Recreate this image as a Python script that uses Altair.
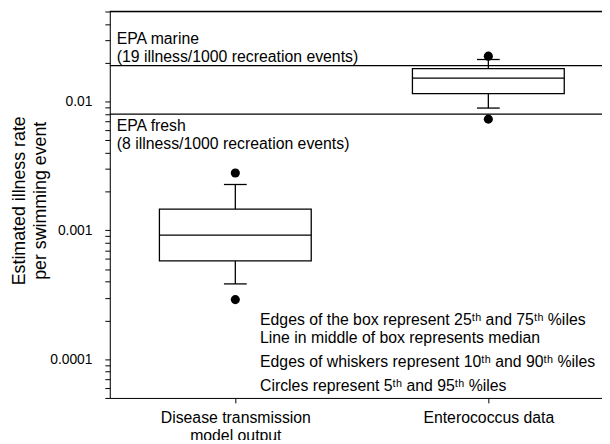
import json
import altair as alt
import pandas as pd

# ---- data ----
categories = ["Disease transmission model output", "Enterococcus data"]
category_label_lines = [["Disease transmission", "model output"], ["Enterococcus data"]]
category_pos = [1, 2]
p05 = [0.00029, 0.0073]
p10 = [0.000384, 0.0089]
p25 = [0.00058, 0.0115]
p50 = [0.000917, 0.0152]
p75 = [0.00146, 0.0180]
p90 = [0.00227, 0.0212]
p95 = [0.00279, 0.0225]

epa_values = [0.019, 0.008]
epa_names = ["EPA marine", "EPA fresh"]
epa_notes = ["(19 illness/1000 recreation events)", "(8 illness/1000 recreation events)"]

legend_lines = [
    "Edges of the box represent 25ᵗʰ and 75ᵗʰ %iles",
    "Line in middle of box represents median",
    "Edges of whiskers represent 10ᵗʰ and 90ᵗʰ %iles",
    "Circles represent 5ᵗʰ and 95ᵗʰ %iles",
]

y_domain = [5e-5, 0.05]
y_ticks = [m * 10.0 ** e for e in (-5, -4, -3, -2) for m in range(1, 10)]
y_ticks = [t for t in y_ticks if y_domain[0] * 0.999 <= t <= y_domain[1] * 1.001]

# ---- layout ----
W, H = 498, 391
PX_PER_UNIT = 256.0
x_min = 1 - 127 / PX_PER_UNIT
x_max = x_min + W / PX_PER_UNIT
BOX_HALF = 0.3
CAP_HALF = 0.045
FONT = "Liberation Sans"

df = pd.DataFrame({
    "cat": categories, "pos": category_pos,
    "p05": p05, "p10": p10, "p25": p25, "p50": p50,
    "p75": p75, "p90": p90, "p95": p95,
})
df["left"] = df["pos"] - BOX_HALF
df["right"] = df["pos"] + BOX_HALF
df["capl"] = df["pos"] - CAP_HALF
df["capr"] = df["pos"] + CAP_HALF

label_expr = " : ".join(
    f"datum.value == {p} ? {json.dumps(l)}" for p, l in zip(category_pos, category_label_lines)
) + " : ''"

xscale = alt.Scale(domain=[x_min, x_max], nice=False, zero=False)
yscale = alt.Scale(type="log", domain=y_domain, nice=False)

x_axis = alt.Axis(
    values=category_pos, labelExpr=label_expr, title=None, grid=False,
    tickSize=5, tickColor="black", domainColor="black", labelColor="black",
    labelFont=FONT, labelFontSize=16, labelPadding=7, labelLineHeight=18,
    labelOverlap=False, labelFlush=False,
)
y_axis = alt.Axis(
    values=y_ticks, format=".4~f",
    labelExpr="abs(log(datum.value)/LN10 - round(log(datum.value)/LN10)) < 1e-6 ? datum.label : ''",
    title=["Estimated illness rate", "per swimming event"],
    titleFont=FONT, titleFontSize=18, titleFontWeight="normal", titleColor="black",
    titleLineHeight=21, titleBaseline="alphabetic", titleX=-86, titleY=191,
    grid=False, tickSize=5, tickColor="black", domainColor="black", labelColor="black",
    labelFont=FONT, labelFontSize=14, labelPadding=13, labelOverlap=False, labelFlush=False,
)

base = alt.Chart(df)

box = base.mark_rect(fill="white", stroke="black", strokeWidth=1.3).encode(
    x=alt.X("left:Q", scale=xscale, axis=x_axis), x2="right:Q",
    y=alt.Y("p25:Q", scale=yscale, axis=y_axis), y2="p75:Q",
)
median = base.mark_rule(color="black", strokeWidth=1.3).encode(
    x="left:Q", x2="right:Q", y="p50:Q")
whisk_hi = base.mark_rule(color="black", strokeWidth=1.3).encode(
    x="pos:Q", y="p75:Q", y2="p90:Q")
whisk_lo = base.mark_rule(color="black", strokeWidth=1.3).encode(
    x="pos:Q", y="p25:Q", y2="p10:Q")
cap_hi = base.mark_rule(color="black", strokeWidth=1.3).encode(
    x="capl:Q", x2="capr:Q", y="p90:Q")
cap_lo = base.mark_rule(color="black", strokeWidth=1.3).encode(
    x="capl:Q", x2="capr:Q", y="p10:Q")
dot_hi = base.mark_circle(color="black", opacity=1, size=85).encode(x="pos:Q", y="p95:Q")
dot_lo = base.mark_circle(color="black", opacity=1, size=85).encode(x="pos:Q", y="p05:Q")

epa_df = pd.DataFrame({"v": epa_values, "name": epa_names, "note": epa_notes})
epa_rules = alt.Chart(epa_df).mark_rule(color="black", strokeWidth=1.3).encode(y="v:Q")
top_rule = alt.Chart(pd.DataFrame({"v": [y_domain[1]]})).mark_rule(
    color="black", strokeWidth=1.3).encode(y="v:Q")

txt = dict(font=FONT, fontSize=16, color="black", align="left", baseline="alphabetic")
marine_1 = alt.Chart(epa_df.iloc[[0]]).mark_text(dy=-22, **txt).encode(
    x=alt.value(7), y="v:Q", text="name:N")
marine_2 = alt.Chart(epa_df.iloc[[0]]).mark_text(dy=-4, **txt).encode(
    x=alt.value(7), y="v:Q", text="note:N")
fresh_1 = alt.Chart(epa_df.iloc[[1]]).mark_text(dy=17.5, **txt).encode(
    x=alt.value(7), y="v:Q", text="name:N")
fresh_2 = alt.Chart(epa_df.iloc[[1]]).mark_text(dy=35, **txt).encode(
    x=alt.value(7), y="v:Q", text="note:N")

legend_y = [317.5, 335, 359.5, 384]
legend_layers = [
    alt.Chart(pd.DataFrame({"t": [line]})).mark_text(**txt).encode(
        x=alt.value(152), y=alt.value(yy), text="t:N")
    for line, yy in zip(legend_lines, legend_y)
]

chart = alt.layer(
    top_rule, epa_rules, whisk_hi, whisk_lo, cap_hi, cap_lo, box, median, dot_hi, dot_lo,
    marine_1, marine_2, fresh_1, fresh_2, *legend_layers,
).properties(
    width=W, height=H,
    autosize=alt.AutoSizeParams(type="none"),
    padding={"left": 103, "top": 1, "right": 0, "bottom": 40},
).configure_view(stroke=None).configure(background="white")

chart.save("out.html", embed_options={"renderer": "svg", "actions": False})
